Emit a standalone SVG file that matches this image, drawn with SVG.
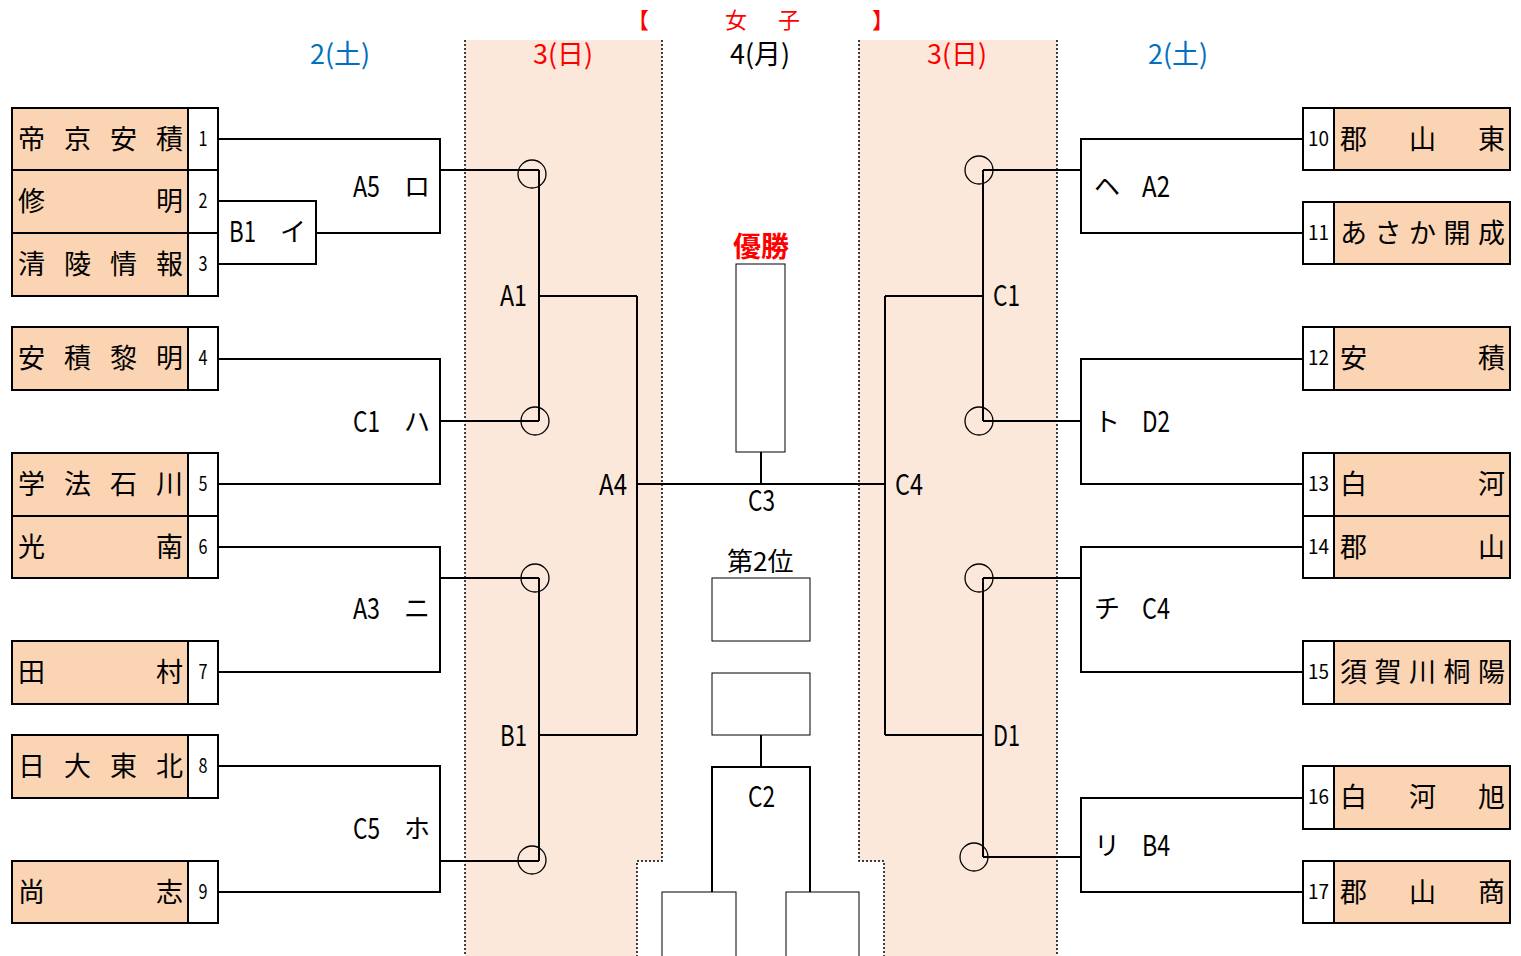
<svg xmlns="http://www.w3.org/2000/svg" width="1521" height="956" viewBox="0 0 1521 956">
<style>
.t{font-family:"Noto Sans CJK JP","Noto Sans CJK SC",sans-serif;fill:#000}
.nmt{font-size:27px;text-anchor:middle}
.num{font-size:20px;text-anchor:middle}
.lb{font-size:26px}
.la{font-size:29px}
.nm{fill:#FBD4B4;stroke:#000;stroke-width:2}
.no{fill:#fff;stroke:#000;stroke-width:2}
.ln{fill:none;stroke:#000;stroke-width:2}
.cir{fill:none;stroke:#000;stroke-width:1.3}
.cb{fill:#fff;stroke:#000;stroke-width:1}
.shade{fill:#FBE8DA;stroke:none}
.dot{fill:none;stroke:#000;stroke-width:1.5;stroke-dasharray:2 2}
.red{fill:#FF0000}
.blue{fill:#0070C0}
</style>
<rect width="1521" height="956" fill="#fff"/>
<g id="bands">
<polygon class="shade" points="465,40 662,40 662,861 637,861 637,956 465,956"/>
<polygon class="shade" points="859,40 1057,40 1057,956 884,956 884,861 859,861"/>
<path class="dot" d="M465,40V956M662,40V861H637V956M859,40V861H884V956M1057,40V956"/>
</g>
<g id="header">
<text class="t red" font-size="22" x="627" y="28">【</text>
<text class="t red" font-size="22" x="725" y="28">女</text>
<text class="t red" font-size="22" x="778" y="28">子</text>
<text class="t red" font-size="22" x="872" y="28">】</text>
<text class="t blue" font-size="27" x="310" y="64" textLength="60" lengthAdjust="spacingAndGlyphs">2(土)</text>
<text class="t red" font-size="27" x="533" y="64" textLength="60" lengthAdjust="spacingAndGlyphs">3(日)</text>
<text class="t" font-size="27" x="730" y="64" textLength="60" lengthAdjust="spacingAndGlyphs">4(月)</text>
<text class="t red" font-size="27" x="927" y="64" textLength="60" lengthAdjust="spacingAndGlyphs">3(日)</text>
<text class="t blue" font-size="27" x="1148" y="64" textLength="60" lengthAdjust="spacingAndGlyphs">2(土)</text>
</g>
<g id="connectors">
<path class="ln" d="M218,139H440V233H316M440,170H539"/>
<path class="ln" d="M218,201H316V264H218"/>
<path class="ln" d="M218,359H440V484H218M440,421H539"/>
<path class="ln" d="M218,547H440V672H218M440,578H539"/>
<path class="ln" d="M218,766H440V892H218M440,861H539"/>
<path class="ln" d="M539,170V421M539,296H637"/>
<path class="ln" d="M539,578V861M539,735H637"/>
<path class="ln" d="M637,296V735M637,484H885"/>
<path class="ln" d="M761,452V484"/>
<path class="ln" d="M885,296V735M885,296H983M885,735H983"/>
<path class="ln" d="M983,170V421M983,578V857"/>
<path class="ln" d="M983,170H1081M983,421H1081M983,578H1081M983,857H1081"/>
<path class="ln" d="M1303,139H1081V233H1303"/>
<path class="ln" d="M1303,359H1081V484H1303"/>
<path class="ln" d="M1303,547H1081V672H1303"/>
<path class="ln" d="M1303,798H1081V892H1303"/>
<path class="ln" d="M761,735V767M712,892V767H810V892"/>
<circle class="cir" cx="532" cy="174" r="14"/>
<circle class="cir" cx="535" cy="421" r="14"/>
<circle class="cir" cx="535" cy="578" r="14"/>
<circle class="cir" cx="532" cy="860" r="14"/>
<circle class="cir" cx="979" cy="170" r="14"/>
<circle class="cir" cx="979" cy="421" r="14"/>
<circle class="cir" cx="979" cy="578" r="14"/>
<circle class="cir" cx="974" cy="857" r="14"/>
</g>
<g id="labels">
<text class="t la" x="353" y="197" textLength="27" lengthAdjust="spacingAndGlyphs">A5</text><text class="t lb" x="404" y="196">ロ</text>
<text class="t la" x="229" y="242" textLength="27" lengthAdjust="spacingAndGlyphs">B1</text><text class="t lb" x="280" y="241">イ</text>
<text class="t la" x="353" y="432" textLength="27" lengthAdjust="spacingAndGlyphs">C1</text><text class="t lb" x="404" y="431">ハ</text>
<text class="t la" x="353" y="619" textLength="27" lengthAdjust="spacingAndGlyphs">A3</text><text class="t lb" x="404" y="618">ニ</text>
<text class="t la" x="353" y="839" textLength="27" lengthAdjust="spacingAndGlyphs">C5</text><text class="t lb" x="404" y="838">ホ</text>
<text class="t la" x="500" y="306" textLength="27" lengthAdjust="spacingAndGlyphs">A1</text>
<text class="t la" x="500" y="746" textLength="27" lengthAdjust="spacingAndGlyphs">B1</text>
<text class="t la" x="599" y="495" textLength="28" lengthAdjust="spacingAndGlyphs">A4</text>
<text class="t la" x="748" y="511" textLength="27" lengthAdjust="spacingAndGlyphs">C3</text>
<text class="t la" x="748" y="807" textLength="27" lengthAdjust="spacingAndGlyphs">C2</text>
<text class="t la" x="993" y="306" textLength="27" lengthAdjust="spacingAndGlyphs">C1</text>
<text class="t la" x="895" y="495" textLength="28" lengthAdjust="spacingAndGlyphs">C4</text>
<text class="t la" x="993" y="746" textLength="27" lengthAdjust="spacingAndGlyphs">D1</text>
<text class="t lb" x="1094" y="196">ヘ</text><text class="t la" x="1142" y="197" textLength="28" lengthAdjust="spacingAndGlyphs">A2</text>
<text class="t lb" x="1094" y="431">ト</text><text class="t la" x="1142" y="432" textLength="28" lengthAdjust="spacingAndGlyphs">D2</text>
<text class="t lb" x="1094" y="618">チ</text><text class="t la" x="1142" y="619" textLength="28" lengthAdjust="spacingAndGlyphs">C4</text>
<text class="t lb" x="1094" y="855">リ</text><text class="t la" x="1142" y="856" textLength="28" lengthAdjust="spacingAndGlyphs">B4</text>
</g>
<g id="final">
<text class="t red" font-size="28" font-weight="bold" x="733" y="257">優勝</text>
<rect class="cb" x="736" y="264" width="49" height="188"/>
<text class="t" font-size="26" x="727" y="571">第2位</text>
<rect class="cb" x="712" y="578" width="98" height="63"/>
<rect class="cb" x="712" y="673" width="98" height="62"/>
<rect class="cb" x="662" y="892" width="74" height="70"/>
<rect class="cb" x="786" y="892" width="73" height="70"/>
</g>
<g id="team1"><rect class="nm" x="12" y="108" width="176" height="62"/><rect class="no" x="188" y="108" width="30" height="62"/><text class="t nmt" x="31.5 77.5 123.5 169.5" y="149">帝京安積</text><text class="t num" x="203" y="146" textLength="9" lengthAdjust="spacingAndGlyphs">1</text></g>
<g id="team2"><rect class="nm" x="12" y="170" width="176" height="63"/><rect class="no" x="188" y="170" width="30" height="63"/><text class="t nmt" x="31.5 169.5" y="211">修明</text><text class="t num" x="203" y="208" textLength="9" lengthAdjust="spacingAndGlyphs">2</text></g>
<g id="team3"><rect class="nm" x="12" y="233" width="176" height="63"/><rect class="no" x="188" y="233" width="30" height="63"/><text class="t nmt" x="31.5 77.5 123.5 169.5" y="274">清陵情報</text><text class="t num" x="203" y="271" textLength="9" lengthAdjust="spacingAndGlyphs">3</text></g>
<g id="team4"><rect class="nm" x="12" y="327" width="176" height="63"/><rect class="no" x="188" y="327" width="30" height="63"/><text class="t nmt" x="31.5 77.5 123.5 169.5" y="368">安積黎明</text><text class="t num" x="203" y="365" textLength="9" lengthAdjust="spacingAndGlyphs">4</text></g>
<g id="team5"><rect class="nm" x="12" y="453" width="176" height="63"/><rect class="no" x="188" y="453" width="30" height="63"/><text class="t nmt" x="31.5 77.5 123.5 169.5" y="494">学法石川</text><text class="t num" x="203" y="491" textLength="9" lengthAdjust="spacingAndGlyphs">5</text></g>
<g id="team6"><rect class="nm" x="12" y="516" width="176" height="62"/><rect class="no" x="188" y="516" width="30" height="62"/><text class="t nmt" x="31.5 169.5" y="557">光南</text><text class="t num" x="203" y="554" textLength="9" lengthAdjust="spacingAndGlyphs">6</text></g>
<g id="team7"><rect class="nm" x="12" y="641" width="176" height="63"/><rect class="no" x="188" y="641" width="30" height="63"/><text class="t nmt" x="31.5 169.5" y="682">田村</text><text class="t num" x="203" y="679" textLength="9" lengthAdjust="spacingAndGlyphs">7</text></g>
<g id="team8"><rect class="nm" x="12" y="735" width="176" height="63"/><rect class="no" x="188" y="735" width="30" height="63"/><text class="t nmt" x="31.5 77.5 123.5 169.5" y="776">日大東北</text><text class="t num" x="203" y="773" textLength="9" lengthAdjust="spacingAndGlyphs">8</text></g>
<g id="team9"><rect class="nm" x="12" y="861" width="176" height="62"/><rect class="no" x="188" y="861" width="30" height="62"/><text class="t nmt" x="31.5 169.5" y="902">尚志</text><text class="t num" x="203" y="899" textLength="9" lengthAdjust="spacingAndGlyphs">9</text></g>
<g id="team10"><rect class="no" x="1303" y="108" width="31" height="62"/><rect class="nm" x="1334" y="108" width="176" height="62"/><text class="t nmt" x="1353.5 1422.5 1491.5" y="149">郡山東</text><text class="t num" x="1318.5" y="146" textLength="21" lengthAdjust="spacingAndGlyphs">10</text></g>
<g id="team11"><rect class="no" x="1303" y="202" width="31" height="62"/><rect class="nm" x="1334" y="202" width="176" height="62"/><text class="t nmt" x="1353.5 1388 1422.5 1457 1491.5" y="243">あさか開成</text><text class="t num" x="1318.5" y="240" textLength="21" lengthAdjust="spacingAndGlyphs">11</text></g>
<g id="team12"><rect class="no" x="1303" y="327" width="31" height="63"/><rect class="nm" x="1334" y="327" width="176" height="63"/><text class="t nmt" x="1353.5 1491.5" y="368">安積</text><text class="t num" x="1318.5" y="365" textLength="21" lengthAdjust="spacingAndGlyphs">12</text></g>
<g id="team13"><rect class="no" x="1303" y="453" width="31" height="63"/><rect class="nm" x="1334" y="453" width="176" height="63"/><text class="t nmt" x="1353.5 1491.5" y="494">白河</text><text class="t num" x="1318.5" y="491" textLength="21" lengthAdjust="spacingAndGlyphs">13</text></g>
<g id="team14"><rect class="no" x="1303" y="516" width="31" height="62"/><rect class="nm" x="1334" y="516" width="176" height="62"/><text class="t nmt" x="1353.5 1491.5" y="557">郡山</text><text class="t num" x="1318.5" y="554" textLength="21" lengthAdjust="spacingAndGlyphs">14</text></g>
<g id="team15"><rect class="no" x="1303" y="641" width="31" height="63"/><rect class="nm" x="1334" y="641" width="176" height="63"/><text class="t nmt" x="1353.5 1388 1422.5 1457 1491.5" y="682">須賀川桐陽</text><text class="t num" x="1318.5" y="679" textLength="21" lengthAdjust="spacingAndGlyphs">15</text></g>
<g id="team16"><rect class="no" x="1303" y="766" width="31" height="63"/><rect class="nm" x="1334" y="766" width="176" height="63"/><text class="t nmt" x="1353.5 1422.5 1491.5" y="807">白河旭</text><text class="t num" x="1318.5" y="804" textLength="21" lengthAdjust="spacingAndGlyphs">16</text></g>
<g id="team17"><rect class="no" x="1303" y="861" width="31" height="62"/><rect class="nm" x="1334" y="861" width="176" height="62"/><text class="t nmt" x="1353.5 1422.5 1491.5" y="902">郡山商</text><text class="t num" x="1318.5" y="899" textLength="21" lengthAdjust="spacingAndGlyphs">17</text></g>
</svg>
